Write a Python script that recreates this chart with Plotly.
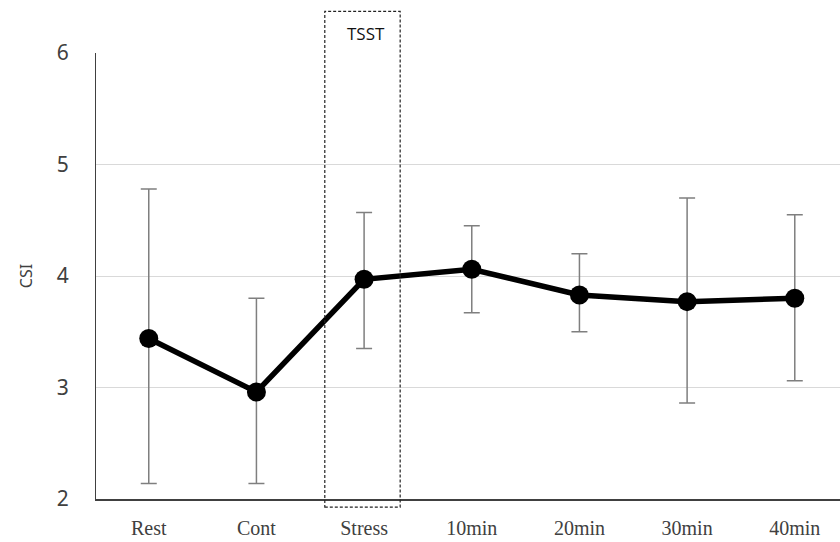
import plotly.graph_objects as go

categories = ["Rest", "Cont", "Stress", "10min", "20min", "30min", "40min"]
csi_mean = [3.44, 2.96, 3.97, 4.06, 3.83, 3.77, 3.80]
csi_upper = [4.78, 3.80, 4.57, 4.45, 4.20, 4.70, 4.55]
csi_lower = [2.14, 2.14, 3.35, 3.67, 3.50, 2.86, 3.06]
y_ticks = [2, 3, 4, 5, 6]

err_plus = [u - m for u, m in zip(csi_upper, csi_mean)]
err_minus = [m - l for m, l in zip(csi_mean, csi_lower)]

xpos = list(range(len(categories)))
x_range = [-0.49, 6.42]
y_range = [2, 6]

fig = go.Figure()
fig.add_trace(go.Scatter(
    x=xpos, y=csi_mean, mode="lines+markers",
    line=dict(color="black", width=5.5),
    marker=dict(color="black", size=19, symbol="circle"),
    error_y=dict(type="data", symmetric=False, array=err_plus, arrayminus=err_minus,
                 color="#7f7f7f", thickness=1.5, width=8),
    showlegend=False,
))

def xp(v):
    return (v - x_range[0]) / (x_range[1] - x_range[0])

def yp(v):
    return (v - y_range[0]) / (y_range[1] - y_range[0])

box_x = [1.635, 2.335]
box_y = [1.928, 6.373]
fig.add_shape(type="rect", xref="paper", yref="paper",
              x0=xp(box_x[0]), x1=xp(box_x[1]), y0=yp(box_y[0]), y1=yp(box_y[1]),
              line=dict(color="#222222", width=1.2, dash="3px,2px"), layer="above")
fig.add_annotation(text="TSST", xref="paper", yref="paper", x=xp(2.02), y=yp(6.30),
                   showarrow=False, font=dict(family="Open Sans, Noto Sans, sans-serif", size=17, color="#111111"))

fig.update_layout(
    width=840, height=542,
    margin=dict(l=96, r=0, t=53, b=43),
    plot_bgcolor="white", paper_bgcolor="white",
    xaxis=dict(range=x_range, tickmode="array", tickvals=xpos, ticktext=categories,
               showgrid=False, zeroline=False, showline=True, linecolor="#404040", linewidth=1.5,
               ticks="", tickfont=dict(family="Liberation Serif, serif", size=20, color="#404040"),
               ticklabelstandoff=10),
    yaxis=dict(range=y_range, tickvals=y_ticks, showgrid=True, gridcolor="#d9d9d9", gridwidth=1,
               zeroline=False, showline=True, linecolor="#404040", linewidth=1.2, ticks="",
               tickfont=dict(family="Noto Sans, Open Sans, sans-serif", size=21, color="#404040"),
               ticklabelstandoff=22,
               title=dict(text="CSI", font=dict(family="Noto Sans, Open Sans, sans-serif", size=16, color="#404040"),
                          standoff=20)),
)

fig.write_html("out.html")
